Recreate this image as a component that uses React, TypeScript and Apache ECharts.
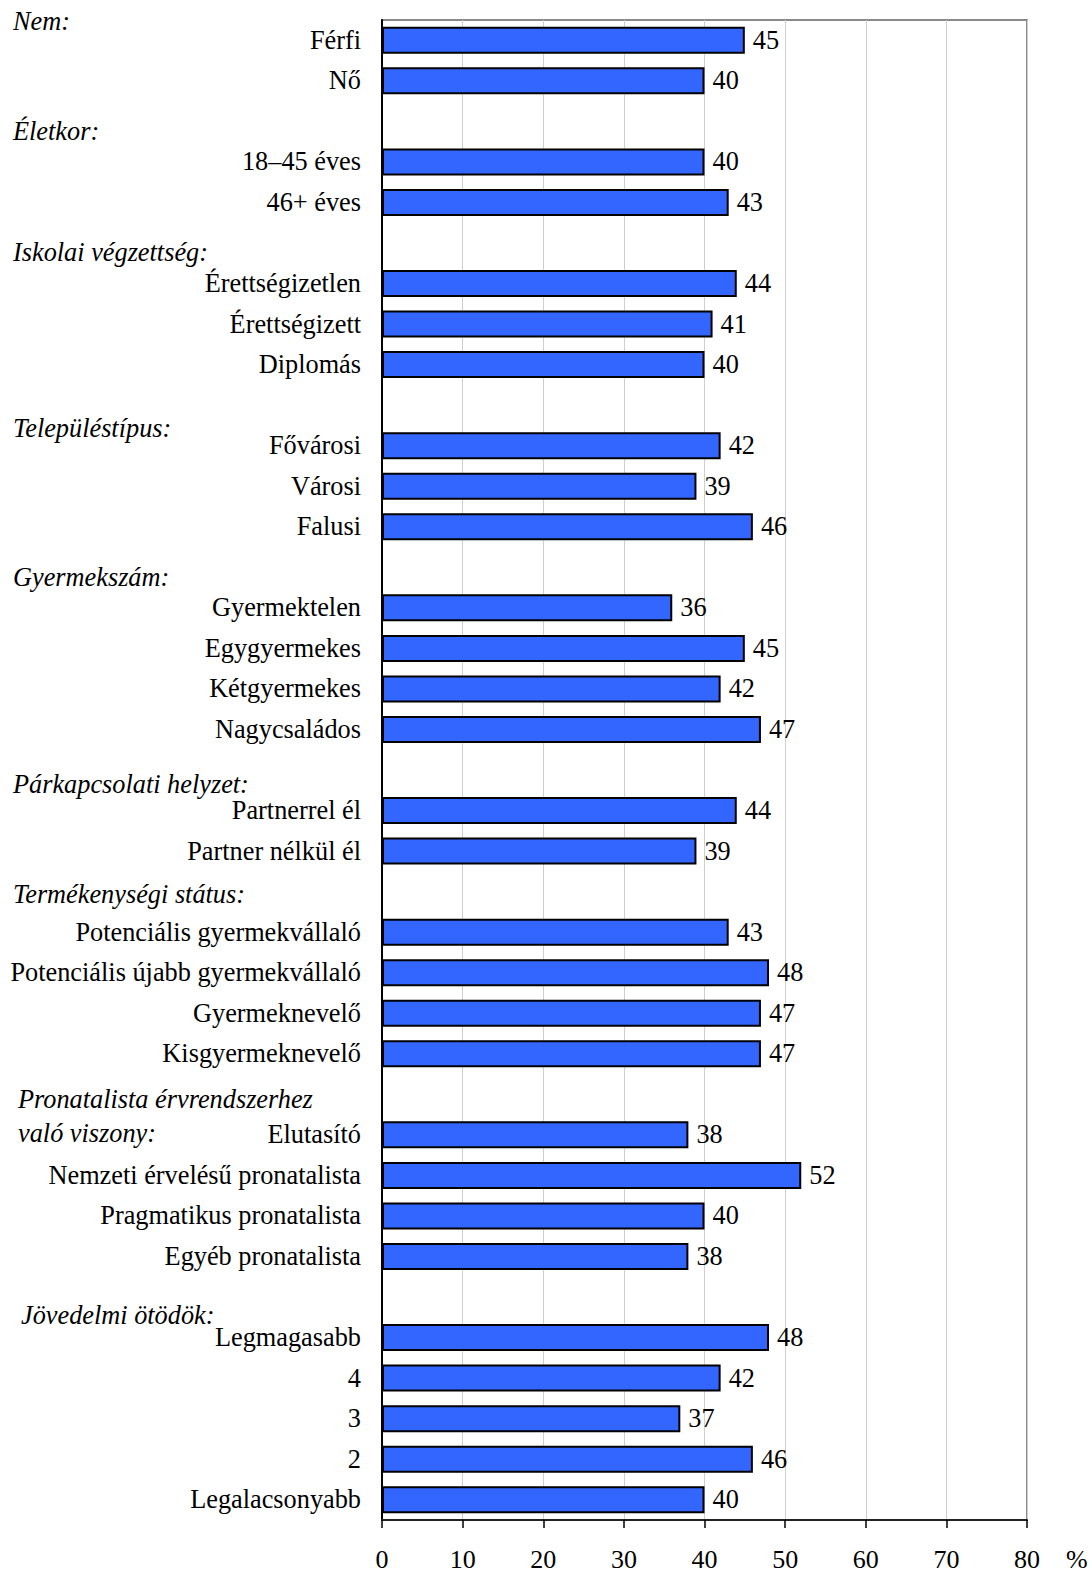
import React, { useEffect, useRef } from "react";
import * as echarts from "echarts";

// Group headers (italic annotations)
const groupHeaders = [
  "Nem:",
  "Életkor:",
  "Iskolai végzettség:",
  "Településtípus:",
  "Gyermekszám:",
  "Párkapcsolati helyzet:",
  "Termékenységi státus:",
  "Pronatalista érvrendszerhez\nvaló viszony:",
  "Jövedelmi ötödök:",
];

// Category labels and values per group
const nemLabels = ["Férfi", "Nő"];
const nemValues = [45, 40];
const korLabels = ["18–45 éves", "46+ éves"];
const korValues = [40, 43];
const iskLabels = ["Érettségizetlen", "Érettségizett", "Diplomás"];
const iskValues = [44, 41, 40];
const telLabels = ["Fővárosi", "Városi", "Falusi"];
const telValues = [42, 39, 46];
const gyerLabels = ["Gyermektelen", "Egygyermekes", "Kétgyermekes", "Nagycsaládos"];
const gyerValues = [36, 45, 42, 47];
const parLabels = ["Partnerrel él", "Partner nélkül él"];
const parValues = [44, 39];
const termLabels = [
  "Potenciális gyermekvállaló",
  "Potenciális újabb gyermekvállaló",
  "Gyermeknevelő",
  "Kisgyermeknevelő",
];
const termValues = [43, 48, 47, 47];
const pronLabels = [
  "Elutasító",
  "Nemzeti érvelésű pronatalista",
  "Pragmatikus pronatalista",
  "Egyéb pronatalista",
];
const pronValues = [38, 52, 40, 38];
const jovLabels = ["Legmagasabb", "4", "3", "2", "Legalacsonyabb"];
const jovValues = [48, 42, 37, 46, 40];

const groupLabels = [nemLabels, korLabels, iskLabels, telLabels, gyerLabels, parLabels, termLabels, pronLabels, jovLabels];
const groupValues = [nemValues, korValues, iskValues, telValues, gyerValues, parValues, termValues, pronValues, jovValues];

const xTicks = [0, 10, 20, 30, 40, 50, 60, 70, 80];
const unitLabel = "%";

// Header text positions (annotation layout)
const headerPos = [
  [13, 21],
  [13, 131],
  [13, 252],
  [13, 428],
  [13, 577],
  [13, 784],
  [13, 894],
  [18, 1116],
  [21, 1315],
];

export default function App() {
  const ref = useRef<HTMLDivElement>(null);
  useEffect(() => {
    if (!ref.current) return;
    const chart = echarts.init(ref.current, null, { renderer: "svg" });

    const categories: string[] = [];
    const values: (number | null)[] = [];
    groupLabels.forEach((labels, gi) => {
      if (gi > 0) {
        categories.push("");
        values.push(null);
      }
      labels.forEach((l, i) => {
        categories.push(l);
        values.push(groupValues[gi][i]);
      });
    });

    const font = "'Liberation Serif', 'Times New Roman', serif";
    const fs = 26.3;

    chart.setOption({
      animation: false,
      backgroundColor: "#ffffff",
      grid: {
        left: 382,
        right: 65,
        top: 20,
        bottom: 53,
        outerBoundsMode: "none",
        containLabel: false,
        show: true,
        borderColor: "#8a8a8a",
        borderWidth: 2,
        backgroundColor: "transparent",
      },
      xAxis: {
        type: "value",
        min: xTicks[0],
        max: xTicks[xTicks.length - 1],
        interval: 10,
        axisLine: { show: true, lineStyle: { color: "#222", width: 2 } },
        axisTick: { show: true, length: 8, lineStyle: { color: "#000", width: 1.5 } },
        splitLine: { show: true, lineStyle: { color: "#cfcfcf", width: 1 } },
        axisLabel: { color: "#000", fontSize: 26, fontFamily: font, margin: 26 },
      },
      yAxis: {
        type: "category",
        inverse: true,
        data: categories,
        axisLine: { show: true, lineStyle: { color: "#000", width: 2 } },
        axisTick: { show: false },
        splitLine: { show: false },
        axisLabel: { color: "#000", fontSize: fs, fontFamily: font, margin: 21, interval: 0 },
      },
      series: [
        {
          type: "bar",
          data: values,
          barWidth: 27,
          itemStyle: { color: "#3366ff", borderColor: "#000", borderWidth: 2 },
          label: {
            show: true,
            position: "right",
            distance: 8,
            color: "#000",
            fontSize: fs,
            fontFamily: font,
          },
        },
      ],
      graphic: [
        ...groupHeaders.map((h, i) => ({
          type: "text",
          x: headerPos[i][0],
          y: headerPos[i][1],
          style: {
            text: h,
            fill: "#000",
            font: `italic ${fs}px ${font}`,
            verticalAlign: "middle",
            lineHeight: 34,
          },
        })),
        {
          type: "text",
          x: 1066,
          y: 1559,
          style: {
            text: unitLabel,
            fill: "#000",
            font: `26px ${font}`,
            verticalAlign: "middle",
          },
        },
      ],
    });
    return () => chart.dispose();
  }, []);
  return (
    <div
      ref={ref}
      style={{ position: "fixed", left: 0, top: 0, width: 1092, height: 1573, background: "#fff" }}
    />
  );
}
